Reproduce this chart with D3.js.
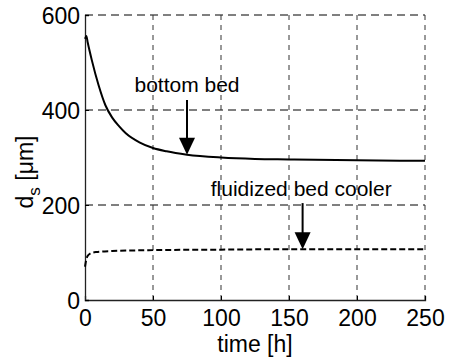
<!DOCTYPE html>
<html>
<head>
<meta charset="utf-8">
<script src="https://cdn.jsdelivr.net/npm/d3@7"></script>
<style>
  body { margin: 0; background: #fff; }
  text { font-family: Arial, "Liberation Sans", sans-serif; fill: #000; }
</style>
</head>
<body>
<svg id="chart"></svg>
<script>
// time [h] and particle size d_s [um]
const bottomTime = [0, 1, 2, 5, 10, 15, 20, 25, 30, 40, 50, 60, 75, 100, 125, 150, 200, 250];
const bottomSize = [550, 556, 542, 505, 452, 410, 384, 366, 351, 332, 320, 313, 306, 300, 297, 296, 294, 293];

const coolerTime = [0, 1, 2, 4, 8, 20, 50, 100, 150, 200, 250];
const coolerSize = [70, 86, 93, 98, 101, 103, 105, 106, 107, 107, 107];

const xTicks = [0, 50, 100, 150, 200, 250];
const yTicks = [0, 200, 400, 600];

const width = 449, height = 358;
const margin = { top: 15, right: 24, bottom: 58, left: 85 };
const w = width - margin.left - margin.right;
const h = height - margin.top - margin.bottom;

const svg = d3.select('#chart')
  .attr('width', width)
  .attr('height', height);

const g = svg.append('g')
  .attr('transform', `translate(${margin.left},${margin.top})`);

const x = d3.scaleLinear().domain([0, 250]).range([0, w]);
const y = d3.scaleLinear().domain([0, 600]).range([h, 0]);

// grid
g.selectAll('.hgrid')
  .data(yTicks.filter(d => d > 0))
  .join('line')
  .attr('x1', 0).attr('x2', w)
  .attr('y1', d => y(d)).attr('y2', d => y(d))
  .attr('stroke', '#000')
  .attr('stroke-width', 1)
  .attr('stroke-dasharray', '8,5');

g.selectAll('.vgrid')
  .data(xTicks.filter(d => d > 0))
  .join('line')
  .attr('x1', d => x(d)).attr('x2', d => x(d))
  .attr('y1', 0).attr('y2', h)
  .attr('stroke', '#333')
  .attr('stroke-width', 1)
  .attr('stroke-dasharray', '5,5');

// axes
const xAxis = g.append('g')
  .attr('transform', `translate(0,${h})`)
  .call(d3.axisBottom(x).tickValues(xTicks).tickSize(-4).tickPadding(10));
const yAxis = g.append('g')
  .call(d3.axisLeft(y).tickValues(yTicks).tickSize(-4).tickPadding(5));

[xAxis, yAxis].forEach(a => {
  a.select('.domain').attr('stroke', '#222').attr('stroke-width', 1.3);
  a.selectAll('.tick line').attr('stroke', '#000');
  a.selectAll('.tick text')
    .style('font-size', '23px')
    .style('font-family', 'Arial, "Liberation Sans", sans-serif');
});
yAxis.selectAll('.tick text').attr('dy', '0.36em');

// curves
const line = d3.line()
  .x(d => x(d[0]))
  .y(d => y(d[1]))
  .curve(d3.curveMonotoneX);

g.append('path')
  .datum(d3.zip(bottomTime, bottomSize))
  .attr('d', line)
  .attr('fill', 'none')
  .attr('stroke', '#000')
  .attr('stroke-width', 2);

g.append('path')
  .datum(d3.zip(coolerTime, coolerSize))
  .attr('d', line)
  .attr('fill', 'none')
  .attr('stroke', '#000')
  .attr('stroke-width', 2)
  .attr('stroke-dasharray', '6,3');

// annotations with arrows
function arrow(t, from, to) {
  const px = x(t), y0 = y(from), y1 = y(to);
  g.append('line')
    .attr('x1', px).attr('x2', px)
    .attr('y1', y0).attr('y2', y1 - 15)
    .attr('stroke', '#000')
    .attr('stroke-width', 2);
  g.append('path')
    .attr('d', `M${px - 8},${y1 - 17} L${px + 8},${y1 - 17} L${px},${y1} Z`)
    .attr('fill', '#000');
}

arrow(75, 421, 306);
arrow(160, 204, 107);

g.append('text')
  .attr('x', x(75)).attr('y', y(438))
  .attr('text-anchor', 'middle')
  .style('font-size', '21px')
  .text('bottom bed');

g.append('text')
  .attr('x', x(159)).attr('y', y(220))
  .attr('text-anchor', 'middle')
  .style('font-size', '21px')
  .text('fluidized bed cooler');

// axis labels
svg.append('text')
  .attr('x', margin.left + w / 2).attr('y', 352)
  .attr('text-anchor', 'middle')
  .style('font-size', '23px')
  .text('time [h]');

const yl = svg.append('text')
  .attr('transform', `translate(33,172) rotate(-90)`)
  .attr('text-anchor', 'middle')
  .style('font-size', '23px');
yl.append('tspan').text('d');
yl.append('tspan').attr('dy', 7).style('font-size', '17px').text('s');
yl.append('tspan').attr('dy', -7).text(' [\u03bcm]');
</script>
</body>
</html>
